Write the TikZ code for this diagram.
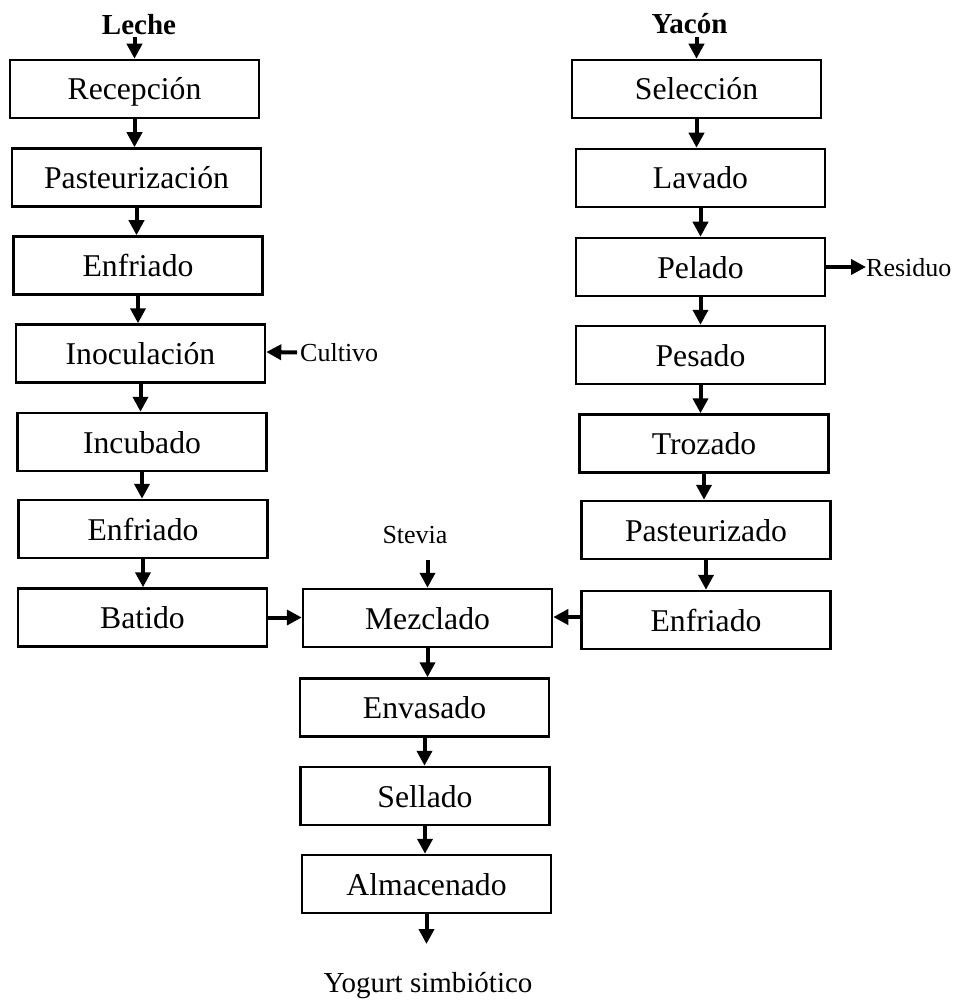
\documentclass[tikz,border=0pt]{standalone}
\usepackage{fontspec}
\setmainfont{Liberation Serif}
\usetikzlibrary{arrows.meta}
\begin{document}
\begin{tikzpicture}[x=1pt,y=-1pt,
  procbox/.style={draw=black,line width=2.5pt,minimum width=249pt,minimum height=58pt,inner sep=0pt,
    text height=22pt,text depth=0pt,font=\fontsize{31.7}{38}\selectfont},
  small/.style={inner sep=0pt,font=\fontsize{26}{31}\selectfont},
  head/.style={inner sep=0pt,font=\fontsize{29}{34}\selectfont\bfseries},
  arr/.style={line width=4pt,-{Triangle[width=15pt,length=15pt]}}]
\useasboundingbox (0,0) rectangle (956,1000);
% left column
\node[procbox] (rec) at (134.5,89) {Recepción};
\node[procbox] (pas) at (136.5,177.5) {Pasteurización};
\node[procbox] (enf1) at (138,265.5) {Enfriado};
\node[procbox] (ino) at (140.5,353.5) {Inoculación};
\node[procbox] (inc) at (142,442) {Incubado};
\node[procbox] (enf2) at (143,529) {Enfriado};
\node[procbox] (bat) at (142.5,617.5) {Batido};
% right column
\node[procbox] (sel) at (696.5,89) {Selección};
\node[procbox] (lav) at (700.5,178) {Lavado};
\node[procbox] (pel) at (700.5,267) {Pelado};
\node[procbox] (pes) at (700.5,355) {Pesado};
\node[procbox] (tro) at (704,443.5) {Trozado};
\node[procbox] (pz) at (706,530) {Pasteurizado};
\node[procbox] (enf3) at (706,620) {Enfriado};
% center
\node[procbox] (mez) at (427.5,618) {Mezclado};
\node[procbox] (env) at (424.5,707.5) {Envasado};
\node[procbox] (sell) at (425,796) {Sellado};
\node[procbox] (alm) at (426.5,884) {Almacenado};
% labels
\node[head,anchor=base] (leche) at (139,35) {Leche};
\node[head,anchor=base] (yacon) at (689.5,34) {Yacón};
\node[small,anchor=base west] (cult) at (300,361) {Cultivo};
\node[small,anchor=base west] (res) at (866,276) {Residuo};
\node[small,anchor=base] (stev) at (415,543) {Stevia};
\node[inner sep=0pt,anchor=base,font=\fontsize{29}{34}\selectfont] (yog) at (428,992) {Yogurt simbiótico};
\coordinate (yend) at (426.5,944);
% arrows
\draw[arr] (rec.north |- leche.south) ++(0,2) -- (rec.north);
\draw[arr] (sel.north |- yacon.south) ++(0,3) -- (sel.north);
\draw[arr] (rec.south) -- (rec.south |- pas.north);
\draw[arr] (pas.south) -- (pas.south |- enf1.north);
\draw[arr] (enf1.south) -- (enf1.south |- ino.north);
\draw[arr] (ino.south) -- (ino.south |- inc.north);
\draw[arr] (inc.south) -- (inc.south |- enf2.north);
\draw[arr] (enf2.south) -- (enf2.south |- bat.north);
\draw[arr] (sel.south) -- (sel.south |- lav.north);
\draw[arr] (lav.south) -- (lav.south |- pel.north);
\draw[arr] (pel.south) -- (pel.south |- pes.north);
\draw[arr] (pes.south) -- (pes.south |- tro.north);
\draw[arr] (tro.south) -- (tro.south |- pz.north);
\draw[arr] (pz.south) -- (pz.south |- enf3.north);
\draw[arr] (mez.south) -- (mez.south |- env.north);
\draw[arr] (env.south) -- (env.south |- sell.north);
\draw[arr] (sell.south) -- (sell.south |- alm.north);
\draw[arr] (alm.south) -- (yend);
\draw[arr] (cult.west |- ino.east) ++(-3,-1) -- (ino.east |- 0,352);
\draw[arr] (pel.east) -- (res.west |- pel.east);
\draw[arr] (bat.east) -- (bat.east -| mez.west);
\draw[arr] (enf3.west |- 0,617) -- (mez.east |- 0,617);
\draw[arr] (mez.north |- stev.south) ++(0,17) -- (mez.north);
\end{tikzpicture}
\end{document}
